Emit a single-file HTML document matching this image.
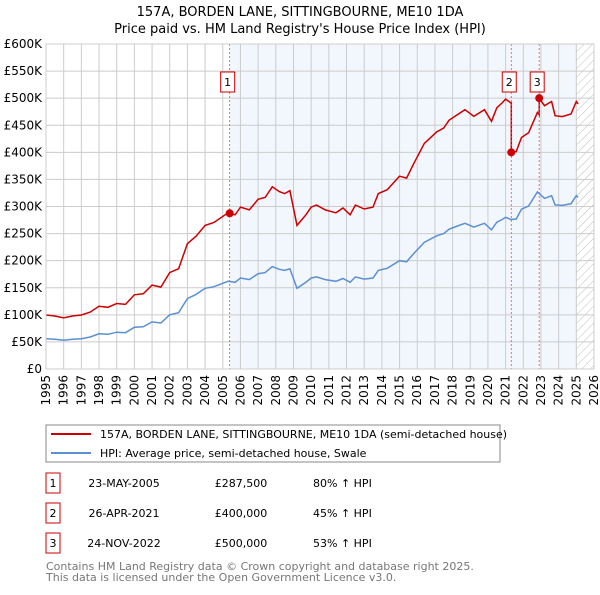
<!DOCTYPE html>
<html><head><meta charset="utf-8"><style>
body{margin:0;width:600px;height:590px;background:#fff;font-family:"Liberation Sans","DejaVu Sans",sans-serif;overflow:hidden}
svg text{font-family:"DejaVu Sans","Liberation Sans",sans-serif}
</style></head><body>
<svg id="c" width="600" height="590" viewBox="0 0 600 590">
<defs><pattern id="hatch" width="6" height="6" patternUnits="userSpaceOnUse" patternTransform="rotate(45)"><line x1="0" y1="0" x2="0" y2="6" stroke="#bbb" stroke-width="1"/></pattern></defs>
<text x="300" y="16" text-anchor="middle" font-size="13">157A, BORDEN LANE, SITTINGBOURNE, ME10 1DA</text>
<text x="300" y="33" text-anchor="middle" font-size="13">Price paid vs. HM Land Registry's House Price Index (HPI)</text>
<g id="plot"></g>
<g>
<rect x="46" y="425" width="454" height="37" fill="#fff" stroke="#888"/>
<line x1="51" y1="434" x2="91" y2="434" stroke="#cc0000" stroke-width="2"/>
<text x="100" y="438" font-size="11">157A, BORDEN LANE, SITTINGBOURNE, ME10 1DA (semi-detached house)</text>
<line x1="51" y1="453" x2="91" y2="453" stroke="#5b8fd4" stroke-width="2"/>
<text x="100" y="457" font-size="11">HPI: Average price, semi-detached house, Swale</text>
</g>
<g id="tbl" font-size="11"></g>
<text x="46" y="570" font-size="11" fill="#777">Contains HM Land Registry data © Crown copyright and database right 2025.</text>
<text x="46" y="581" font-size="11" fill="#777">This data is licensed under the Open Government Licence v3.0.</text>
</svg>
<script>
const hpiYears=[1995.0,1995.5,1996.0,1996.5,1997.0,1997.5,1998.0,1998.5,1999.0,1999.5,2000.0,2000.5,2001.0,2001.5,2002.0,2002.5,2003.0,2003.5,2004.0,2004.5,2005.3,2005.7,2006.0,2006.5,2007.0,2007.4,2007.8,2008.2,2008.5,2008.8,2009.2,2009.7,2010.0,2010.3,2010.8,2011.4,2011.8,2012.2,2012.5,2013.0,2013.5,2013.8,2014.3,2015.0,2015.4,2015.8,2016.4,2017.1,2017.5,2017.8,2018.2,2018.7,2019.2,2019.8,2020.2,2020.5,2020.8,2021.0,2021.3,2021.6,2021.9,2022.3,2022.8,2023.2,2023.6,2023.8,2024.2,2024.7,2025.0,2025.1];
const hpiValues=[56,55,53,55,56,59,65,64,68,67,77,78,87,85,100,104,130,138,149,152,162,160,168,165,176,178,189,184,182,185,149,160,168,170,165,162,167,160,170,166,168,182,186,200,198,213,234,246,250,258,263,269,262,269,257,271,276,280,276,277,295,301,327,315,320,303,302,305,320,317];
const saleLabels=["1","2","3"];
const saleYears=[2005.39,2021.32,2022.9];
const salePrices=[287.5,400,500];
const saleDates=["23-MAY-2005","26-APR-2021","24-NOV-2022"];
const salePriceText=["£287,500","£400,000","£500,000"];
const saleHpiText=["80% ↑ HPI","45% ↑ HPI","53% ↑ HPI"];
const yTicks=[0,50,100,150,200,250,300,350,400,450,500,550,600];
const xTicks=[1995,1996,1997,1998,1999,2000,2001,2002,2003,2004,2005,2006,2007,2008,2009,2010,2011,2012,2013,2014,2015,2016,2017,2018,2019,2020,2021,2022,2023,2024,2025,2026];
const ns="http://www.w3.org/2000/svg";
const X0=46,X1=594,Y0=369,Y1=44;
const xs=y=>X0+(y-1995)/(2026-1995)*(X1-X0);
const ys=v=>Y0-v/600*(Y0-Y1);
const plot=document.getElementById('plot');
function mk(t,a,p){const e=document.createElementNS(ns,t);for(const k in a)e.setAttribute(k,a[k]);(p||plot).appendChild(e);return e;}
let r=mk('rect',{x:xs(saleYears[0]),y:Y1,width:xs(2025.0)-xs(saleYears[0]),height:Y0-Y1,fill:'#f2f6fd'});


r=mk('rect',{x:xs(2025.0),y:Y1,width:X1-xs(2025.0),height:Y0-Y1,fill:'url(#hatch)'});


yTicks.forEach(v=>{mk('line',{x1:X0,x2:X1,y1:ys(v),y2:ys(v),stroke:'#ccc'});
const t=mk('text',{x:X0-4,y:ys(v)+4,'text-anchor':'end','font-size':12});t.textContent='£'+(v?v+'K':'0');

});
xTicks.forEach(yr=>{mk('line',{x1:xs(yr),x2:xs(yr),y1:Y1,y2:Y0,stroke:'#ccc'});
const t=mk('text',{x:0,y:0,'text-anchor':'end','font-size':12,transform:`translate(${xs(yr)+4},${Y0+6}) rotate(-90)`});t.textContent=yr;

});
let d=hpiYears.map((y,i)=>(i?'L':'M')+xs(y).toFixed(1)+','+ys(hpiValues[i]).toFixed(1)).join('');
let p=mk('path',{d:d,fill:'none',stroke:'#5b8fd4','stroke-width':1.5});


function hpiAt(y){for(let i=1;i<hpiYears.length;i++)if(y<=hpiYears[i]){const f=(y-hpiYears[i-1])/(hpiYears[i]-hpiYears[i-1]);return hpiValues[i-1]+f*(hpiValues[i]-hpiValues[i-1]);}return hpiValues[hpiValues.length-1];}
const pts=[];
const factor=y=>{let k=0;for(let j=0;j<saleYears.length;j++)if(y>=saleYears[j])k=j;return salePrices[k]/hpiAt(saleYears[k]);};
const allY=[...hpiYears,...saleYears].sort((a,b)=>a-b);
allY.forEach(y=>{if(saleYears.includes(y)&&y!==saleYears[0])pts.push([y,hpiAt(y)*factor(y-0.001)]);pts.push([y,hpiAt(y)*factor(y)]);});
d=pts.map((q,i)=>(i?'L':'M')+xs(q[0]).toFixed(1)+','+ys(q[1]).toFixed(1)).join('');
p=mk('path',{d:d,fill:'none',stroke:'#cc0000','stroke-width':1.5});


saleYears.forEach((y,i)=>{
const l=mk('line',{x1:xs(y),x2:xs(y),y1:Y1,y2:Y0,stroke:'#e05050','stroke-dasharray':'2,2','stroke-width':0.8});


const c=mk('circle',{cx:xs(y),cy:ys(salePrices[i]),r:4,fill:'#cc0000'});


const g=mk('g',{});


mk('rect',{x:xs(y)-9,y:72,width:14,height:20,fill:'#fff',stroke:'#cc0000'},g);
const t=mk('text',{x:xs(y)-2,y:86,'text-anchor':'middle','font-size':11},g);t.textContent=saleLabels[i];});
mk('rect',{x:X0,y:Y1,width:X1-X0,height:Y0-Y1,fill:'none',stroke:'#ccc'});
const tbl=document.getElementById('tbl');
saleLabels.forEach((s,i)=>{const yy=483+i*30;
const g=mk('g',{},tbl);


mk('rect',{x:46,y:yy-10,width:14,height:20,fill:'#fff',stroke:'#cc0000'},g);
[[53,s,'middle'],[124,saleDates[i],'middle'],[241,salePriceText[i],'middle'],[313,saleHpiText[i],'start']].forEach(a=>{const t=mk('text',{x:a[0],y:yy+4,'text-anchor':a[2]},g);t.textContent=a[1];});});
</script>
</body></html>
